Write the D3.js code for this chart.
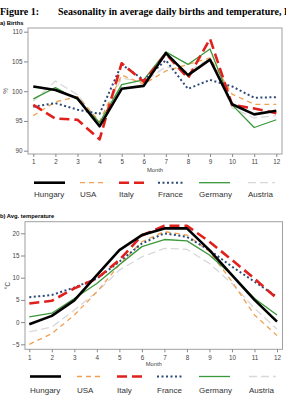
<!DOCTYPE html>
<html><head><meta charset="utf-8">
<script src="https://cdn.jsdelivr.net/npm/d3@7"></script>
<style>body{margin:0;background:#fff;} svg{display:block;}</style>
</head><body>
<script>
const months = [1,2,3,4,5,6,7,8,9,10,11,12];
const countries = ["Hungary","USA","Italy","France","Germany","Austria"];
const birthsHungary = [100.8,100.2,98.8,94.1,100.4,100.9,106.4,102.7,105.3,97.8,96.1,96.7];
const birthsUSA     = [95.9,98.2,99.1,94.9,102.7,101.2,103.4,104.5,105.6,99.5,97.8,97.8];
const birthsItaly   = [97.7,95.4,95.2,91.9,104.7,101.6,106.3,102.2,108.8,97.7,97.1,96.3];
const birthsFrance  = [97.4,98.0,96.9,96.2,104.5,101.9,105.2,100.4,101.9,100.8,98.9,99.0];
const birthsGermany = [98.7,100.6,98.6,94.7,101.1,101.9,106.6,104.5,107.1,97.7,93.9,95.2];
const birthsAustria = [98.3,101.7,99.4,94.7,102.2,101.6,104.1,103.3,105.5,97.2,95.5,95.9];
const tempHungary = [-0.5,1.4,4.9,10.6,16.2,19.6,21.1,21.1,16.2,10.6,5.0,0.1];
const tempUSA     = [-5.0,-2.6,1.6,6.8,12.9,18.1,20.4,19.6,15.9,9.1,1.6,-3.0];
const tempItaly   = [4.2,4.8,7.6,9.8,14.0,19.5,21.7,21.7,18.1,14.0,9.8,5.3];
const tempFrance  = [5.6,6.1,7.8,9.8,13.6,17.7,20.0,19.2,16.2,12.5,9.1,5.7];
const tempGermany = [1.2,2.0,5.3,8.7,12.9,17.0,18.6,18.3,15.1,10.6,5.3,1.6];
const tempAustria = [-2.2,-1.1,2.7,6.8,11.7,14.7,16.6,16.4,13.2,8.7,3.1,-1.6];
const birthTicks = [90,95,100,105,110];
const tempTicks = [-5,0,5,10,15,20];

const styles = {
  Hungary:{color:"#000000", w:2.6, dash:null},
  USA:{color:"#f0a050", w:1.3, dash:"5,4"},
  Italy:{color:"#e0201c", w:2.6, dash:"10,5"},
  France:{color:"#2e4a78", w:2.0, dash:"2,2.5"},
  Germany:{color:"#3a983a", w:1.3, dash:null},
  Austria:{color:"#d8d8d8", w:1.3, dash:"8,4"}
};
const birthsData = [birthsHungary,birthsUSA,birthsItaly,birthsFrance,birthsGermany,birthsAustria];
const tempData = [tempHungary,tempUSA,tempItaly,tempFrance,tempGermany,tempAustria];

const svg = d3.select("body").append("svg").attr("width",286).attr("height",396)
  .style("font-family","Arial, 'Liberation Sans', sans-serif");

const serif = "'Liberation Serif', 'Times New Roman', serif";
svg.append("text").attr("x",0).attr("y",15).attr("font-family",serif)
  .attr("font-weight","bold").attr("font-size",10).text("Figure 1:");
svg.append("text").attr("x",58).attr("y",15).attr("font-family",serif)
  .attr("font-weight","bold").attr("font-size",10).text("Seasonality in average daily births and temperature, Hungary");

function panel(cfg){
  const g = svg.append("g");
  g.append("text").attr("x",0).attr("y",cfg.titleY).attr("font-weight","bold").attr("font-size",5.8).text(cfg.title);
  const x = d3.scaleLinear().domain([1,12]).range([cfg.x1,cfg.x12]);
  const y = d3.scaleLinear().domain(cfg.ydom).range(cfg.yrng);
  g.append("rect").attr("x",cfg.left).attr("y",cfg.top).attr("width",cfg.right-cfg.left).attr("height",cfg.bottom-cfg.top)
    .attr("fill","none").attr("stroke","#a0a0a0").attr("stroke-width",1);
  const xa = g.append("g").attr("transform",`translate(0,${cfg.bottom})`)
    .call(d3.axisBottom(x).tickValues(months).tickSize(3).tickPadding(3).tickFormat(d3.format("d")));
  const ya = g.append("g").attr("transform",`translate(${cfg.left},0)`)
    .call(d3.axisLeft(y).tickValues(cfg.ticks).tickSize(4).tickPadding(1.5).tickFormat(d3.format("d")));
  [xa,ya].forEach(a=>{
    a.select(".domain").remove();
    a.selectAll("line").attr("stroke","#888");
    a.selectAll("text").attr("fill","#444").attr("font-size",6.3).attr("font-family","Arial, 'Liberation Sans', sans-serif");
  });
  g.append("text").attr("x",(cfg.left+cfg.right)/2).attr("y",cfg.monthY).attr("text-anchor","middle")
    .attr("font-size",5.8).attr("fill","#444").text("Month");
  g.append("text").attr("transform",`translate(${cfg.ylabX},${(cfg.top+cfg.bottom)/2}) rotate(-90)`)
    .attr("text-anchor","middle").attr("font-size",6.3).attr("fill","#444").text(cfg.ylab);
  const line = d3.line().x((d,i)=>x(months[i])).y(d=>y(d));
  const order = [5,1,4,3,2,0];
  order.forEach(i=>{
    const s = styles[countries[i]];
    g.append("path").datum(cfg.data[i]).attr("d",line).attr("fill","none")
      .attr("stroke",s.color).attr("stroke-width",s.w).attr("stroke-dasharray",s.dash)
      .attr("stroke-linejoin","round");
  });
  countries.forEach((c,i)=>{
    const s = styles[c];
    const lx = cfg.legX[i];
    g.append("line").attr("x1",lx).attr("x2",lx+cfg.legW[i]).attr("y1",cfg.legLineY).attr("y2",cfg.legLineY)
      .attr("stroke",s.color).attr("stroke-width",s.w).attr("stroke-dasharray",s.dash);
    g.append("text").attr("x",lx).attr("y",cfg.legTextY).attr("font-size",8).attr("fill","#333").text(c);
  });
}

panel({title:"a) Births", titleY:24.5, left:28, right:282, top:28, bottom:154,
  x1:33.3, x12:276.3, ydom:[90,110], yrng:[150.7,31.7], ticks:birthTicks, data:birthsData,
  monthY:171.5, ylab:"%", ylabX:8,
  legX:[34,80,119,158,199,248], legW:[31,25,27,27,31,27], legLineY:182.7, legTextY:197.3});

panel({title:"b) Avg. temperature", titleY:217.5, left:25, right:282.5, top:221.7, bottom:349.3,
  x1:29.3, x12:277, ydom:[-5,20], yrng:[344.3,233.3], ticks:tempTicks, data:tempData,
  monthY:365.5, ylab:"°C", ylabX:10,
  legX:[30,77,117,157,199,249], legW:[31,25,27,26,31,27], legLineY:376.5, legTextY:392.5});
</script>
</body></html>
